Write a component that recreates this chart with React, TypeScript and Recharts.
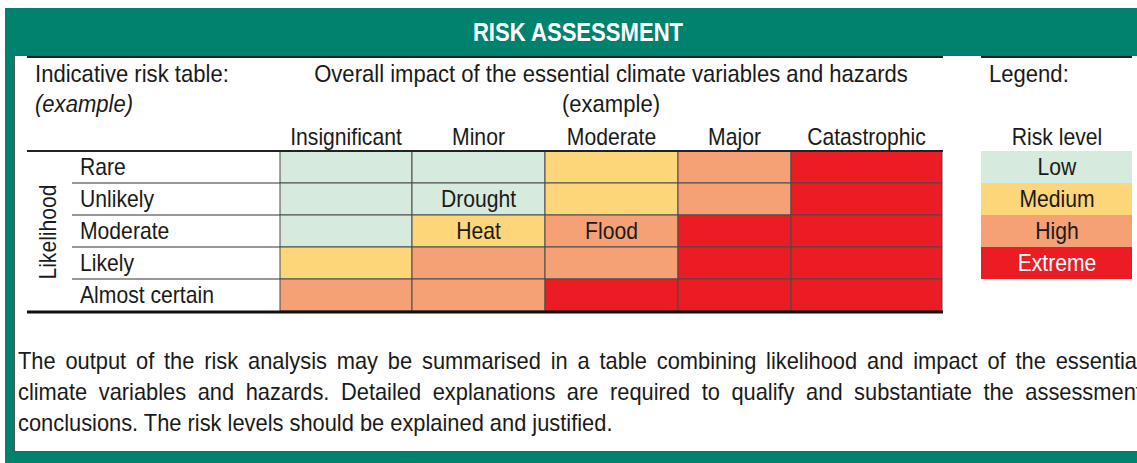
import React from 'react';
import { BarChart, Bar, XAxis, YAxis, Cell, LabelList } from 'recharts';

const likelihoods = ['Rare', 'Unlikely', 'Moderate', 'Likely', 'Almost certain'];
const impacts = ['Insignificant', 'Minor', 'Moderate', 'Major', 'Catastrophic'];
const riskLevels = ['Low', 'Medium', 'High', 'Extreme'];
// risk level index, one row per likelihood (top to bottom), one column per impact
const riskMatrix = [
  [0, 0, 1, 2, 3],
  [0, 0, 1, 2, 3],
  [0, 1, 2, 3, 3],
  [1, 2, 2, 3, 3],
  [2, 2, 3, 3, 3],
];
const hazardNames = ['Drought', 'Heat', 'Flood'];
const hazardLikelihood = ['Unlikely', 'Moderate', 'Moderate'];
const hazardImpact = ['Minor', 'Minor', 'Moderate'];

const paragraphLines = [
  'The output of the risk analysis may be summarised in a table combining likelihood and impact of the essential',
  'climate variables and hazards.  Detailed explanations are required to qualify and substantiate the assessment',
  'conclusions. The risk levels should be explained and justified.',
];

// layout
const COL_WIDTHS = [132, 133, 133, 113, 151];
const W = 1137;
const H = 463;
const TEAL = '#00826f';
const RISK_COLORS = ['#d6eadd', '#fdd67a', '#f5a175', '#ec1c24'];
const FONT = "'Liberation Sans', Arial, sans-serif";
const NARROW = 0.92;
const TOTAL = COL_WIDTHS.reduce((a, b) => a + b, 0);
const MIDS = COL_WIDTHS.map((w, i) => COL_WIDTHS.slice(0, i).reduce((a, b) => a + b, 0) + w / 2);

const rows = likelihoods.map((lik, r) => {
  const row: Record<string, string | number> = { likelihood: lik };
  impacts.forEach((imp, c) => {
    row[`c${c}`] = COL_WIDTHS[c];
    const k = hazardNames.findIndex((_, j) => hazardLikelihood[j] === lik && hazardImpact[j] === imp);
    row[`h${c}`] = k >= 0 ? hazardNames[k] : '';
  });
  return row;
});

// condensed text: the reference uses a narrow face, so squeeze Liberation Sans horizontally
const T = ({ x, y, anchor = 'start', size = 24, fill = '#1a1a1a', sx = NARROW, weight, italic, rotate, children }: any) => (
  <text
    transform={`translate(${x} ${y})${rotate ? ` rotate(${rotate})` : ''} scale(${sx} 1)`}
    textAnchor={anchor}
    fontFamily={FONT}
    fontSize={size}
    fontWeight={weight}
    fontStyle={italic ? 'italic' : undefined}
    fill={fill}
  >
    {children}
  </text>
);

const HeaderTick = (props: any) => {
  const { x, payload } = props;
  const idx = MIDS.indexOf(payload.value);
  return <T x={x} y={145} anchor="middle" size={23}>{impacts[idx]}</T>;
};

const RowTick = (props: any) => {
  const { y, payload, index } = props;
  return (
    <g>
      <T x={80} y={y + 8} size={23}>{payload.value}</T>
      {index < likelihoods.length - 1 && (
        <line x1={72} x2={280} y1={y + 16} y2={y + 16} stroke="#333" strokeWidth={1} />
      )}
    </g>
  );
};

const HazardLabel = (props: any) => {
  const { x, y, width, height, value } = props;
  if (!value) return null;
  return <T x={x + width / 2} y={y + height / 2 + 8} anchor="middle" size={23}>{value}</T>;
};

export default function App() {
  return (
    <div style={{ position: 'absolute', left: 0, top: 0, width: W, height: H, overflow: 'hidden', background: '#fff' }}>
      <svg width={W} height={H} style={{ position: 'absolute', left: 0, top: 0 }}>
        <rect x={5} y={8} width={W} height={H} fill={TEAL} />
        <rect x={14.5} y={55.5} width={W} height={396} fill="#fff" stroke="#555" strokeWidth={1} />
      </svg>

      <div style={{ position: 'absolute', left: 0, top: 0 }}>
        <BarChart
          width={W}
          height={H}
          data={rows}
          layout="vertical"
          barCategoryGap={0}
          barGap={0}
          margin={{ top: 121, left: 80, right: W - 280 - TOTAL, bottom: 152 }}
        >
          <XAxis
            type="number"
            orientation="top"
            domain={[0, TOTAL]}
            ticks={MIDS}
            interval={0}
            height={30}
            axisLine={false}
            tickLine={false}
            tick={<HeaderTick />}
          />
          <YAxis
            type="category"
            dataKey="likelihood"
            width={200}
            interval={0}
            axisLine={false}
            tickLine={false}
            tick={<RowTick />}
          />
          {impacts.map((imp, c) => (
            <Bar key={imp} dataKey={`c${c}`} stackId="risk" stroke="#4a4a4a" strokeWidth={1} isAnimationActive={false}>
              {rows.map((_, r) => (
                <Cell key={r} fill={RISK_COLORS[riskMatrix[r][c]]} />
              ))}
              <LabelList dataKey={`h${c}`} content={<HazardLabel />} />
            </Bar>
          ))}
        </BarChart>
      </div>

      <svg width={W} height={H} style={{ position: 'absolute', left: 0, top: 0, pointerEvents: 'none' }}>
        <T x={578} y={41} anchor="middle" size={26} weight="bold" fill="#fff" sx={0.85}>
          RISK ASSESSMENT
        </T>
        <line x1={27} x2={943} y1={57} y2={57} stroke="#222" strokeWidth={2} />
        <line x1={981} x2={1132} y1={57} y2={57} stroke="#222" strokeWidth={2} />
        <line x1={27} x2={943} y1={151} y2={151} stroke="#222" strokeWidth={2} />
        <line x1={27} x2={943} y1={312} y2={312} stroke="#111" strokeWidth={3} />

        <T x={35} y={82}>Indicative risk table:</T>
        <T x={35} y={112} italic>(example)</T>
        <T x={611} y={82} anchor="middle">Overall impact of the essential climate variables and hazards</T>
        <T x={611} y={112} anchor="middle">(example)</T>
        <T x={989} y={82}>Legend:</T>
        <T x={1057} y={145} anchor="middle" size={23}>Risk level</T>
        <T x={56} y={232} anchor="middle" size={23} rotate={-90}>Likelihood</T>

        {riskLevels.map((lvl, i) => (
          <g key={lvl}>
            <rect x={981} y={151 + i * 32} width={151} height={32} fill={RISK_COLORS[i]} />
            <T x={1057} y={151 + i * 32 + 24} anchor="middle" size={23} fill={i === 3 ? '#fff' : '#1a1a1a'}>
              {lvl}
            </T>
          </g>
        ))}
      </svg>

      {paragraphLines.map((line, i) => {
        const justified = i < paragraphLines.length - 1;
        return (
          <div
            key={i}
            style={{
              position: 'absolute',
              left: 18,
              top: 348 + i * 31,
              width: justified ? Math.round(1124 / 0.91) : undefined,
              whiteSpace: 'nowrap',
              fontFamily: FONT,
              fontSize: 24,
              lineHeight: '26px',
              color: '#1a1a1a',
              textAlign: 'justify',
              textAlignLast: justified ? 'justify' : 'left',
              transform: 'scaleX(0.91)',
              transformOrigin: '0 0',
            }}
          >
            {line}
          </div>
        );
      })}
    </div>
  );
}
